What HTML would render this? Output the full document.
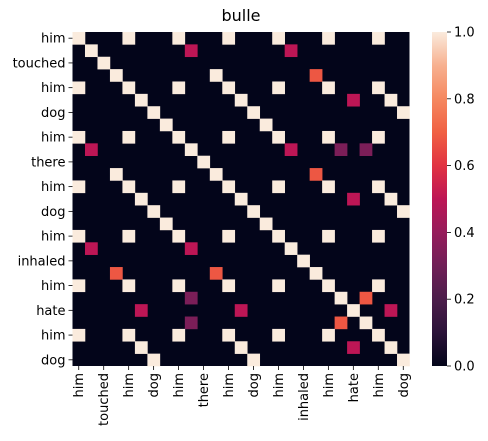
<!DOCTYPE html>
<html><head><meta charset="utf-8"><style>
html,body{margin:0;padding:0;background:#fff;}
svg{display:block;font-family:"DejaVu Sans","Liberation Sans",sans-serif;}
</style></head><body>
<svg id="chart" width="488" height="441" viewBox="0 0 488 441">
<defs>
<linearGradient id="rocket" x1="0" y1="1" x2="0" y2="0">
<stop offset="0" stop-color="#03051A"/><stop offset="0.1" stop-color="#2B1339"/><stop offset="0.2" stop-color="#4C1D4B"/><stop offset="0.3" stop-color="#701F57"/><stop offset="0.4" stop-color="#961C5B"/><stop offset="0.5" stop-color="#BD1655"/><stop offset="0.6" stop-color="#E13342"/><stop offset="0.7" stop-color="#F06043"/><stop offset="0.8" stop-color="#F58860"/><stop offset="0.9" stop-color="#F7B08F"/><stop offset="1" stop-color="#FAEBDD"/>
</linearGradient>
</defs>
<text x="241" y="21" text-anchor="middle" font-size="16">bulle</text>
<g id="cells"></g>
<g id="xt"></g>
<g id="yt"></g>
<rect x="432" y="32" width="15" height="334" fill="url(#rocket)"/>
<g id="cb"></g>
</svg>
<script>
const tokens=["him","","touched","","him","","dog","","him","","there","","him","","dog","","him","","inhaled","","him","","hate","","him","","dog"];
const cellsOn=[
[1,9,0.5],[1,17,0.5],[3,11,1],[3,19,0.68],
[5,13,1],[5,22,0.5],[5,25,1],[6,14,1],[6,26,1],[7,15,1],
[9,1,0.5],[9,17,0.5],[9,21,0.33],[9,23,0.33],
[11,3,1],[11,19,0.68],[13,5,1],[13,22,0.5],[13,25,1],[14,6,1],[14,26,1],[15,7,1],
[17,1,0.5],[17,9,0.5],[19,3,0.68],[19,11,0.68],
[21,9,0.33],[21,23,0.68],[22,5,0.5],[22,13,0.5],[22,25,0.5],[23,9,0.33],[23,21,0.68],
[25,5,1],[25,13,1],[25,22,0.5],[26,6,1],[26,14,1]
];
const himIdx=[0,4,8,12,16,20,24];
const cbTicks=[0,0.2,0.4,0.6,0.8,1.0];
const stops=[[0,"#03051A"],[0.1,"#2B1339"],[0.2,"#4C1D4B"],[0.3,"#701F57"],[0.4,"#961C5B"],[0.5,"#BD1655"],[0.6,"#E13342"],[0.7,"#F06043"],[0.8,"#F58860"],[0.9,"#F7B08F"],[1,"#FAEBDD"]];
function hx(h){return [1,3,5].map(i=>parseInt(h.substr(i,2),16));}
function color(v){for(let i=1;i<stops.length;i++){if(v<=stops[i][0]){const a=stops[i-1],b=stops[i],t=(v-a[0])/(b[0]-a[0]);const ca=hx(a[1]),cb=hx(b[1]);return "rgb("+ca.map((c,k)=>Math.round(c+(cb[k]-c)*t)).join(",")+")";}}return stops[stops.length-1][1];}
const n=tokens.length,X0=72.5,Y0=32,W=337,H=334,cw=W/n,ch=H/n;
const M=[];for(let r=0;r<n;r++){M.push(new Array(n).fill(0));M[r][r]=1;}
himIdx.forEach(a=>himIdx.forEach(b=>{M[a][b]=1;}));
cellsOn.forEach(([r,c,v])=>{M[r][c]=v;});
const ns="http://www.w3.org/2000/svg";
const g=document.getElementById('cells');
const bg=document.createElementNS(ns,'rect');


bg.setAttribute('x',X0);bg.setAttribute('y',Y0);bg.setAttribute('width',W);bg.setAttribute('height',H);bg.setAttribute('fill',color(0));g.appendChild(bg);
for(let r=0;r<n;r++)for(let c=0;c<n;c++){if(M[r][c]<=0)continue;
const e=document.createElementNS(ns,'rect');


e.setAttribute('x',X0+c*cw);e.setAttribute('y',Y0+r*ch);e.setAttribute('width',cw+0.3);e.setAttribute('height',ch+0.3);e.setAttribute('fill',color(M[r][c]));g.appendChild(e);}
const xt=document.getElementById('xt'),yt=document.getElementById('yt');
tokens.forEach((t,i)=>{if(i%2)return;
const cx=X0+(i+0.5)*cw,cy=Y0+(i+0.5)*ch;
const l1=document.createElementNS(ns,'line');


l1.setAttribute('x1',cx);l1.setAttribute('x2',cx);l1.setAttribute('y1',Y0+H);l1.setAttribute('y2',Y0+H+4);l1.setAttribute('stroke','#000');l1.setAttribute('stroke-width','0.8');xt.appendChild(l1);
const tx=document.createElementNS(ns,'text');


tx.setAttribute('transform','translate('+(cx+4.5)+','+(Y0+H+7)+') rotate(-90)');tx.setAttribute('text-anchor','end');tx.setAttribute('font-size','13');tx.textContent=t;xt.appendChild(tx);
const l2=document.createElementNS(ns,'line');


l2.setAttribute('x1',X0-4);l2.setAttribute('x2',X0);l2.setAttribute('y1',cy);l2.setAttribute('y2',cy);l2.setAttribute('stroke','#000');l2.setAttribute('stroke-width','0.8');yt.appendChild(l2);
const ty=document.createElementNS(ns,'text');


ty.setAttribute('x',X0-7);ty.setAttribute('y',cy+4.5);ty.setAttribute('text-anchor','end');ty.setAttribute('font-size','13');ty.textContent=t;yt.appendChild(ty);});
const cbg=document.getElementById('cb');
cbTicks.forEach(v=>{const y=366-v*334;
const l=document.createElementNS(ns,'line');


l.setAttribute('x1',447);l.setAttribute('x2',451);l.setAttribute('y1',y);l.setAttribute('y2',y);l.setAttribute('stroke','#000');l.setAttribute('stroke-width','0.8');cbg.appendChild(l);
const t=document.createElementNS(ns,'text');


t.setAttribute('x',454);t.setAttribute('y',y+4.5);t.setAttribute('font-size','13');t.textContent=v.toFixed(1);cbg.appendChild(t);});
</script>
</body></html>
